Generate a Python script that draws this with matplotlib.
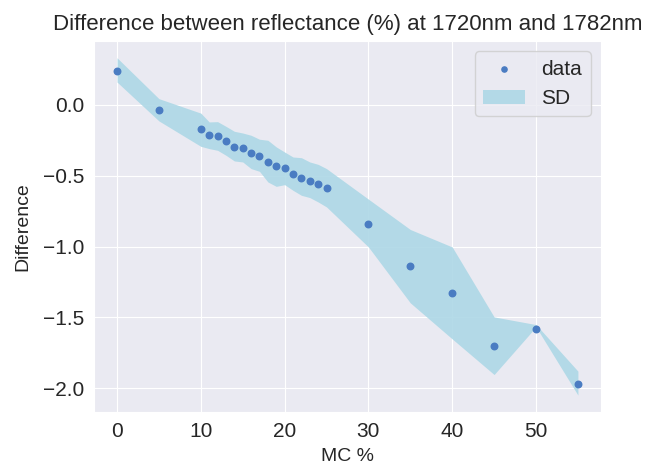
import matplotlib
matplotlib.use("Agg")
import matplotlib.pyplot as plt
import seaborn as sns

# moisture content (%) and reflectance difference
mc = [0, 5, 10, 11, 12, 13, 14, 15, 16, 17, 18, 19, 20, 21, 22, 23, 24, 25,
      30, 35, 40, 45, 50, 55]
diff = [0.24, -0.04, -0.175, -0.215, -0.222, -0.255, -0.298, -0.303, -0.338,
        -0.362, -0.402, -0.435, -0.449, -0.49, -0.515, -0.538, -0.561, -0.585,
        -0.843, -1.14, -1.324, -1.70, -1.583, -1.967]
sd_upper = [0.33, 0.042, -0.06, -0.122, -0.12, -0.153, -0.188, -0.20, -0.216,
            -0.244, -0.251, -0.298, -0.334, -0.369, -0.374, -0.404, -0.421,
            -0.451, -0.666, -0.88, -1.003, -1.496, -1.55, -1.878]
sd_lower = [0.159, -0.115, -0.294, -0.31, -0.322, -0.357, -0.397, -0.404,
            -0.451, -0.47, -0.545, -0.576, -0.564, -0.604, -0.639, -0.655,
            -0.686, -0.721, -1.003, -1.397, -1.651, -1.902, -1.566, -2.047]

sns.set_style("darkgrid")
plt.rcParams['font.family'] = ['Liberation Sans', 'DejaVu Sans']

fig = plt.figure(figsize=(6.49, 4.65), dpi=100)
ax = fig.add_axes([0.1448, 0.114, 0.7812, 0.798])

ax.scatter(mc, diff, s=22, color='#4a7cc2', label='data', zorder=3)
ax.fill_between(mc, sd_lower, sd_upper, color='lightblue', alpha=0.9,
                linewidth=0, label='SD')

ax.set_title('Difference between reflectance (%) at 1720nm and 1782nm',
             fontsize=16, pad=8)
ax.set_xlabel('MC %', fontsize=14, labelpad=5)
ax.set_ylabel('Difference', fontsize=14, labelpad=8)
ax.tick_params(labelsize=15)
ax.legend(fontsize=15, loc='upper right', markerscale=0.8)

fig.savefig('out.png', dpi=100)
